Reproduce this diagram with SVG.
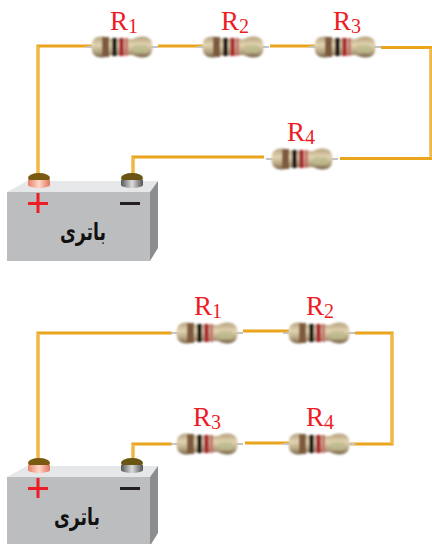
<svg xmlns="http://www.w3.org/2000/svg" xmlns:xlink="http://www.w3.org/1999/xlink" width="432" height="544" viewBox="0 0 432 544">
<style>
.w{fill:none;stroke:#e9a51c;stroke-width:3.200;stroke-linejoin:miter}
.h{fill:none;stroke:#f8cf78;stroke-width:.9}
.l{font-family:"Liberation Serif",serif;font-size:27px;fill:#ed1c24}
.s{font-size:20px}
.b{font-family:"DejaVu Sans","Noto Sans",sans-serif;font-weight:bold;font-size:24px;fill:#111;text-anchor:middle}
</style>
<defs>
<filter id="soft" x="-10%" y="-20%" width="120%" height="140%"><feGaussianBlur stdDeviation=".8"/></filter>
<linearGradient id="body" x1="0" y1="0" x2="0" y2="1"><stop offset="0" stop-color="#b5a07c"/><stop offset=".4" stop-color="#e3d4b2"/><stop offset=".75" stop-color="#b5a27f"/><stop offset="1" stop-color="#6f5e45"/></linearGradient>
<linearGradient id="red" x1="0" y1="0" x2="1" y2="0"><stop offset="0" stop-color="#e8806a"/><stop offset=".5" stop-color="#ffd8c8"/><stop offset=".8" stop-color="#f09a85"/><stop offset="1" stop-color="#d97a62"/></linearGradient>
<linearGradient id="gray" x1="0" y1="0" x2="1" y2="0"><stop offset="0" stop-color="#555"/><stop offset=".5" stop-color="#ddd"/><stop offset=".8" stop-color="#888"/><stop offset="1" stop-color="#555"/></linearGradient>
<g id="res">
<rect x="-36" y="-1" width="72" height="2" fill="#c4c4c4"/>
<g filter="url(#soft)">
<path d="M-29,-7 C-25,-12 -16,-11 -11,-8 L11,-8 C16,-11 25,-12 29,-7 C31,-3 31,3 29,7 C25,12 16,11 11,8 L-11,8 C-16,11 -25,12 -29,7 C-31,3 -31,-3 -29,-7Z" fill="url(#body)"/>
<rect x="-20" y="-10" width="7" height="20" fill="#7d5a3c"/>
<rect x="-10" y="-9" width="5" height="18" fill="#231d1a"/>
<rect x="-3" y="-9" width="5" height="18" fill="#a92d35"/>
<rect x="3" y="-9" width="3" height="18" fill="#c9706a"/>
<rect x="12" y="-2" width="13" height="8" fill="#b9bd8c" opacity=".7"/>
</g>
</g>
<g id="bat">
<polygon points="7,192 27,181 158,181 150,192" fill="#e6e7e8"/>
<polygon points="150,192 158,181 158,248 150,261" fill="#8c8d8f"/>
<rect x="7" y="192" width="143" height="69" fill="#bcbdbf"/>
<ellipse cx="39" cy="178" rx="11" ry="5" fill="#7a5a10"/>
<rect x="28" y="180" width="22" height="5" fill="url(#red)"/>
<ellipse cx="39" cy="185" rx="11" ry="3" fill="url(#red)"/>
<ellipse cx="132" cy="178" rx="11" ry="5" fill="#6b5512"/>
<rect x="121" y="180" width="22" height="5" fill="url(#gray)"/>
<ellipse cx="132" cy="185" rx="11" ry="3" fill="url(#gray)"/>
<rect x="28" y="202" width="20" height="3" fill="#ee1c25"/>
<rect x="36.500" y="193" width="3" height="20" fill="#ee1c25"/>
<rect x="120" y="202" width="20" height="3" fill="#231f20"/>
</g>
</defs>
<g id="connectors">
<path class="w" d="M38,178V46H92M158,46H203M270,46H315M381,47.500H431V158.500H340M264,157H133V176"/>
<path class="w" d="M38,465V333H172M243,331H289M355,333H392V444H350M290,443H245M172,444H133V462"/>
<path class="h" d="M38,178V46M431,48V158M133,157V176M38,465V333M392,333V444M133,444V462"/>
</g>
<g id="battery-1"><use xlink:href="#bat" href="#bat"/><text class="b" x="83" y="240" textLength="46" lengthAdjust="spacingAndGlyphs">باتری</text></g>
<g id="battery-2"><use xlink:href="#bat" href="#bat" y="285"/><text class="b" x="77" y="525" textLength="46" lengthAdjust="spacingAndGlyphs">باتری</text></g>
<g id="t-R1"><use href="#res" x="122" y="47"/><text class="l" x="110" y="30">R<tspan class="s" dy="3">1</tspan></text></g>
<g id="t-R2"><use href="#res" x="233" y="47"/><text class="l" x="221" y="30">R<tspan class="s" dy="3">2</tspan></text></g>
<g id="t-R3"><use href="#res" x="345" y="47"/><text class="l" x="333" y="30">R<tspan class="s" dy="3">3</tspan></text></g>
<g id="t-R4"><use href="#res" x="302" y="159"/><text class="l" x="287" y="141">R<tspan class="s" dy="3">4</tspan></text></g>
<g id="b-R1"><use href="#res" x="207" y="333"/><text class="l" x="194" y="315">R<tspan class="s" dy="3">1</tspan></text></g>
<g id="b-R2"><use href="#res" x="319" y="333"/><text class="l" x="306" y="315">R<tspan class="s" dy="3">2</tspan></text></g>
<g id="b-R3"><use href="#res" x="207" y="444"/><text class="l" x="193" y="426">R<tspan class="s" dy="3">3</tspan></text></g>
<g id="b-R4"><use href="#res" x="319" y="444"/><text class="l" x="306" y="426">R<tspan class="s" dy="3">4</tspan></text></g>
</svg>
